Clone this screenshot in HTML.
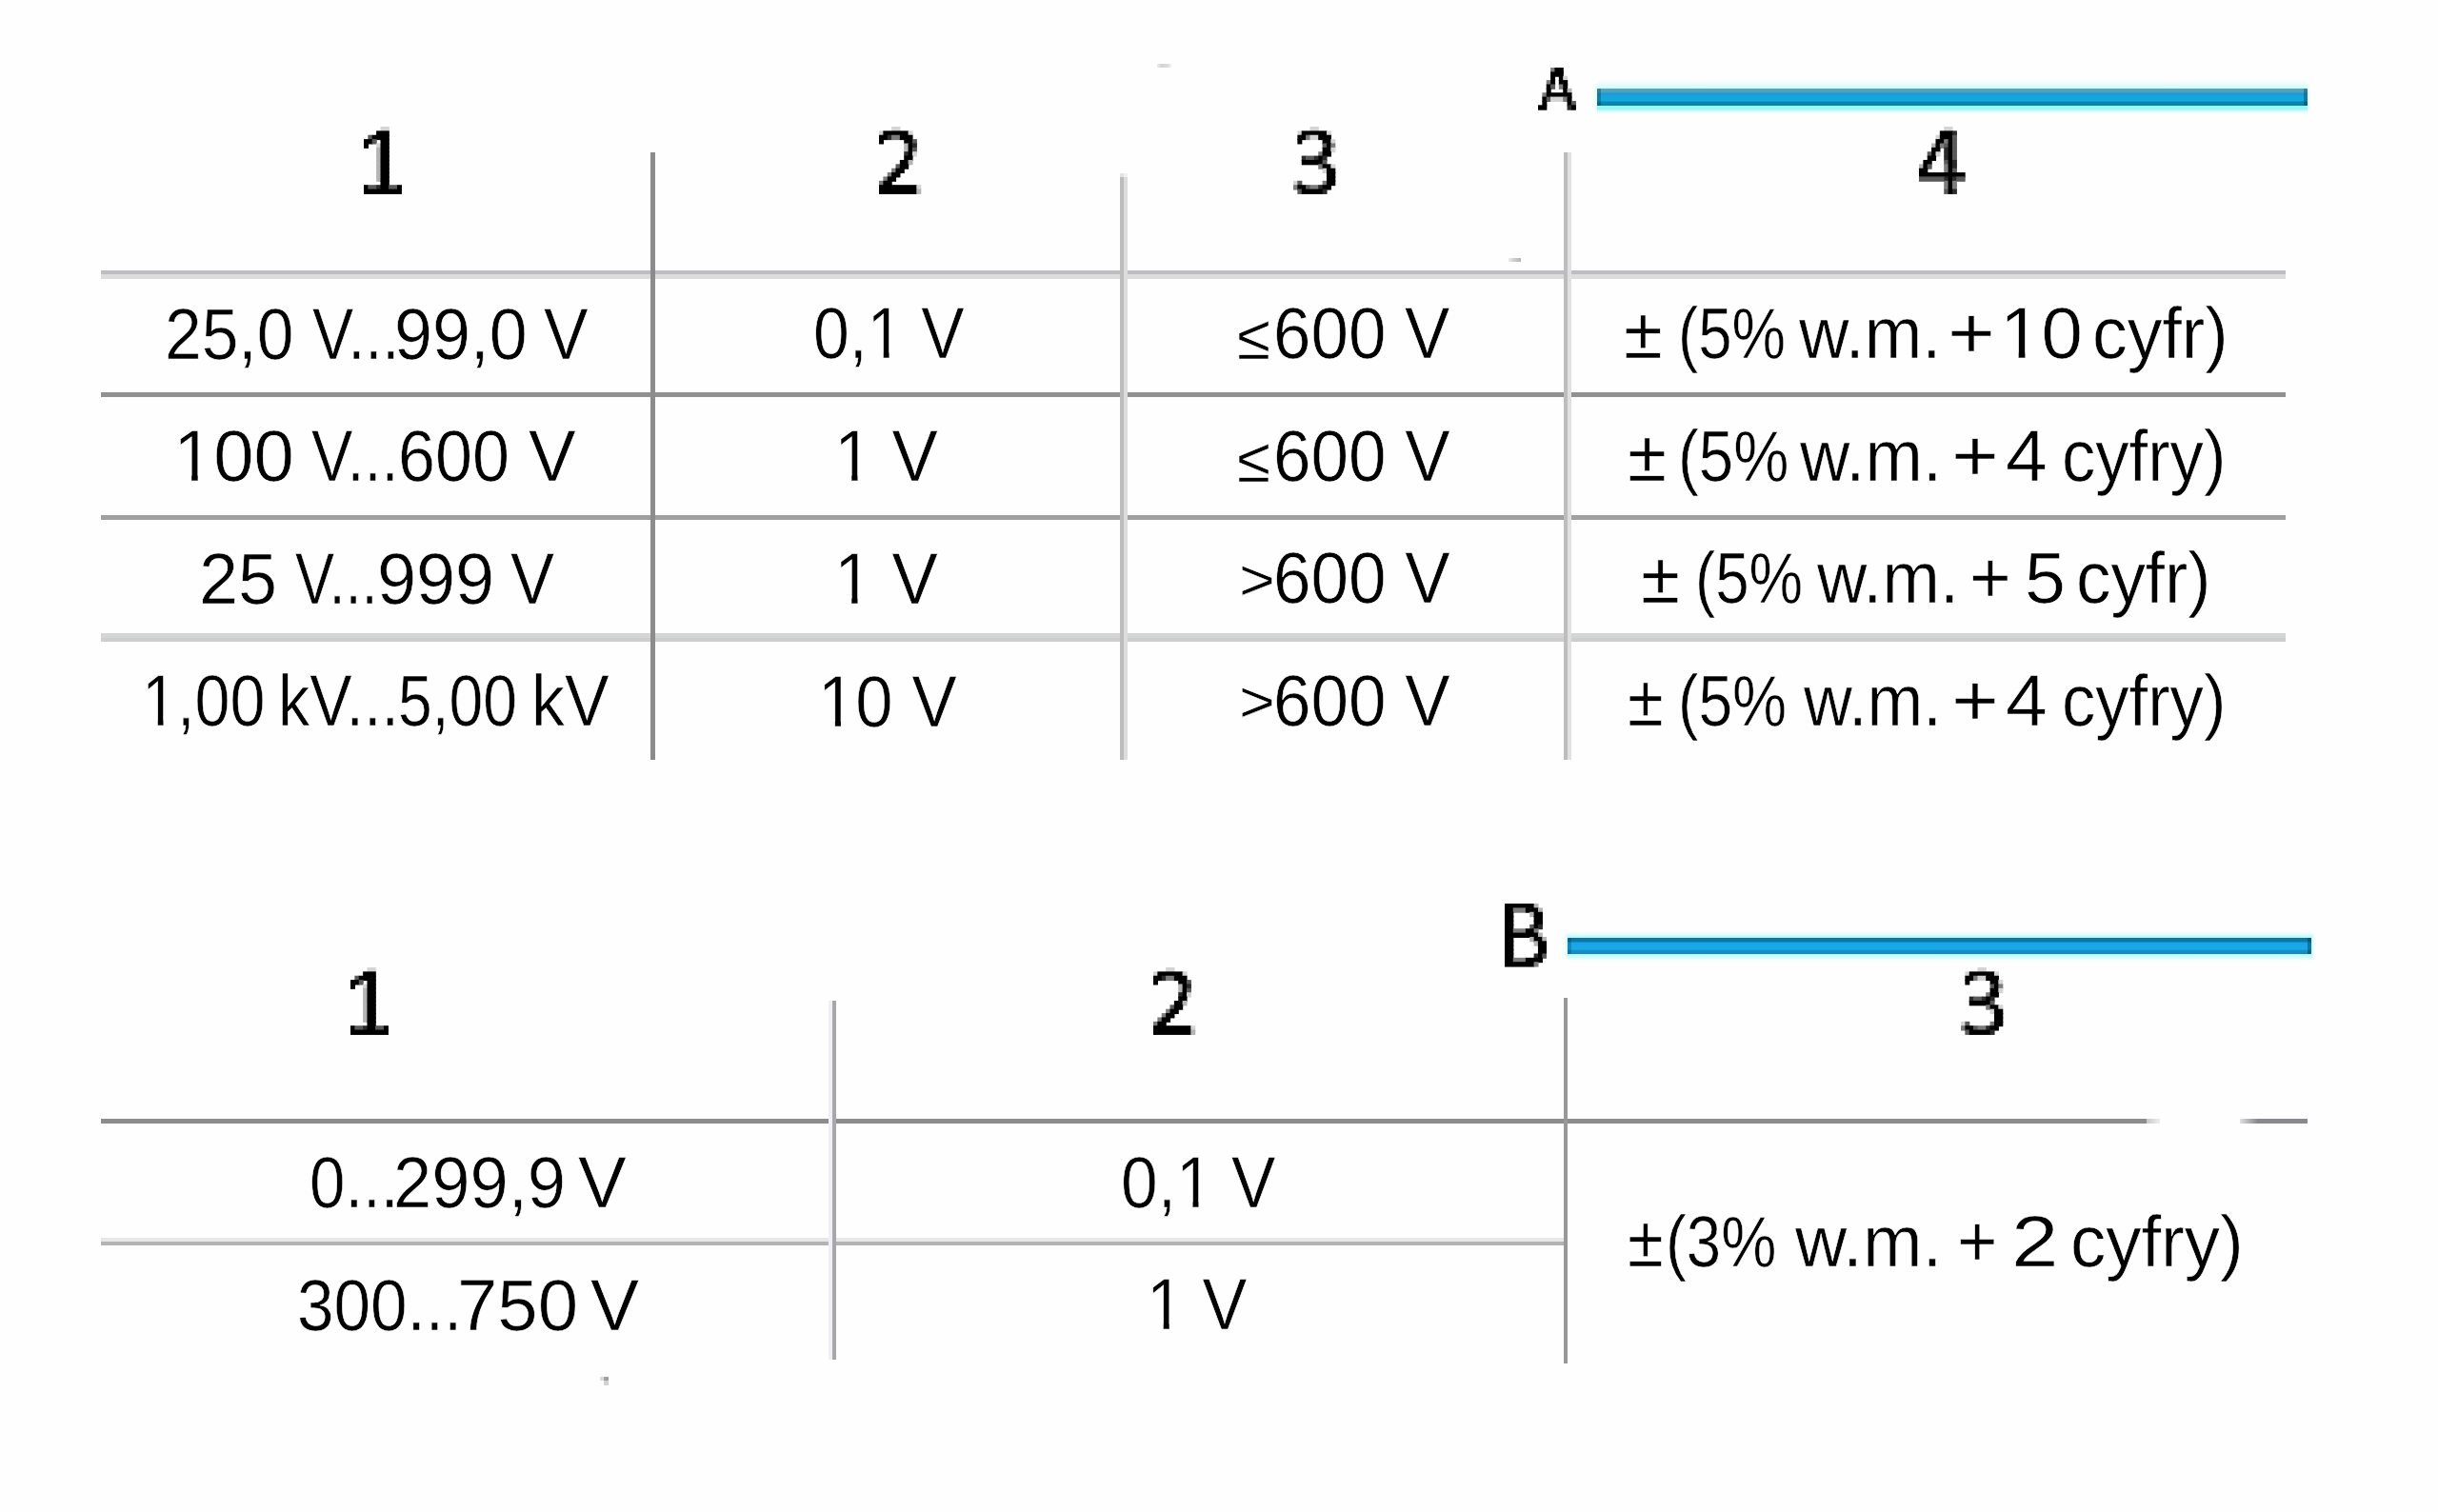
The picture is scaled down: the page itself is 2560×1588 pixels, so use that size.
<!DOCTYPE html>
<html><head><meta charset='utf-8'><style>html,body{margin:0;padding:0}body{width:2560px;height:1588px;background:#fefefe;position:relative;overflow:hidden;font-family:'Liberation Sans',sans-serif}
.t{position:absolute;line-height:1;white-space:pre;color:#000;transform-origin:0 0;-webkit-text-stroke:0.6px #fefefe}
.l{position:absolute}
.o{display:inline-block;clip-path:polygon(0 0,100% 0,100% 75.3%,60.7% 75.3%,60.7% 100%,45.4% 100%,45.4% 75.3%,0 75.3%)}</style></head><body><div class="l" style="left:106px;top:284px;width:2294px;height:9px;background:linear-gradient(#bdbdc2 0,#bdbdc2 4px,#dcdcdc 4px,#dcdcdc 100%)"></div>
<div class="l" style="left:106px;top:412px;width:2294px;height:5px;background:#909090"></div>
<div class="l" style="left:106px;top:541px;width:2294px;height:5px;background:#a0a0a0"></div>
<div class="l" style="left:106px;top:665px;width:2294px;height:9px;background:linear-gradient(#d4d6d6 0,#d4d6d6 5px,#cdcfcf 5px,#cdcfcf 100%)"></div>
<div class="l" style="left:683px;top:160px;width:5px;height:638px;background:#8c8c8c"></div>
<div class="l" style="left:1176px;top:182px;width:8px;height:4px;background:linear-gradient(90deg,#e2e2e2 0,#e2e2e2 4px,#f0f0f0 4px,#f0f0f0 100%)"></div>
<div class="l" style="left:1176px;top:186px;width:8px;height:612px;background:linear-gradient(90deg,#bcbcbc 0,#bcbcbc 4px,#dcdcdc 4px,#dcdcdc 100%)"></div>
<div class="l" style="left:1642px;top:160px;width:8px;height:638px;background:linear-gradient(90deg,#bdbdbd 0,#bdbdbd 4px,#e0e0e0 4px,#e0e0e0 100%)"></div>
<div class="l" style="left:1677px;top:83px;width:746px;height:10px;background:linear-gradient(#fefefe,#e8fcfc 60%,#d0fcfc)"></div>
<div class="l" style="left:1677px;top:93px;width:746px;height:18px;background:linear-gradient(#5aa6c2 0,#4aa0c0 4px,#1a9ad4 5px,#14a6de 9px,#12a8e0 13px,#0a88b0 14px,#08829f 100%)"></div>
<div class="l" style="left:1677px;top:111px;width:746px;height:10px;background:linear-gradient(#90fcfc,#a0f4f4 35%,#d0fcfc 55%,#f4fefe 80%,#fefefe)"></div>
<div class="l" style="left:1646px;top:978px;width:781px;height:7px;background:linear-gradient(#fefefe,#e0fcfc 50%,#b0f8fc)"></div>
<div class="l" style="left:1646px;top:985px;width:781px;height:17px;background:linear-gradient(#0c74a4 0,#0a78a8 4px,#18a4e4 5px,#18aaea 12px,#1890c4 13px,#1888b8 100%)"></div>
<div class="l" style="left:1646px;top:1002px;width:781px;height:8px;background:linear-gradient(#b8fafc,#d0fcfc 40%,#f4fefe 80%,#fefefe)"></div>
<div class="l" style="left:1672px;top:88px;width:5px;height:28px;background:linear-gradient(90deg,#fefefe,#e8fcfc)"></div>
<div class="l" style="left:1677px;top:93px;width:4px;height:18px;background:rgba(0,30,50,0.28)"></div>
<div class="l" style="left:2419px;top:93px;width:4px;height:18px;background:rgba(0,30,50,0.3)"></div>
<div class="l" style="left:2423px;top:88px;width:4px;height:28px;background:linear-gradient(90deg,#e8fcfc,#fefefe)"></div>
<div class="l" style="left:1641px;top:981px;width:5px;height:25px;background:linear-gradient(90deg,#fefefe,#d8fcfc)"></div>
<div class="l" style="left:1646px;top:985px;width:4px;height:17px;background:rgba(0,30,50,0.22)"></div>
<div class="l" style="left:2423px;top:985px;width:4px;height:17px;background:rgba(0,30,50,0.35)"></div>
<div class="l" style="left:2427px;top:981px;width:4px;height:25px;background:linear-gradient(90deg,#c8fafc,#fefefe)"></div>
<div class="l" style="left:1215px;top:67px;width:15px;height:4px;background:linear-gradient(90deg,#eeeeee,#d4d4d4 30%,#d8d8d8 70%,#f4f4f4)"></div>
<div class="l" style="left:1584px;top:271px;width:13px;height:4px;background:linear-gradient(90deg,#ececec,#d0d0d0 40%,#b4b4b4)"></div>
<div class="l" style="left:630px;top:1446px;width:4px;height:4px;background:#dcdcdc"></div>
<div class="l" style="left:634px;top:1446px;width:5px;height:4px;background:#a0a0a0"></div>
<div class="l" style="left:634px;top:1450px;width:5px;height:5px;background:#d2d2d2"></div>
<div class="l" style="left:106px;top:1175px;width:2148px;height:5px;background:#8c8c8c"></div>
<div class="l" style="left:2254px;top:1175px;width:14px;height:5px;background:linear-gradient(90deg,#c8c8c8,#eeeeee)"></div>
<div class="l" style="left:2352px;top:1175px;width:18px;height:5px;background:linear-gradient(90deg,#e0e0e0,#8a8a90)"></div>
<div class="l" style="left:2370px;top:1175px;width:53px;height:5px;background:#88888e"></div>
<div class="l" style="left:106px;top:1300px;width:1536px;height:4px;background:#e8e8e8"></div>
<div class="l" style="left:106px;top:1304px;width:1536px;height:4px;background:#b4b4b4"></div>
<div class="l" style="left:870px;top:1051px;width:4px;height:377px;background:#f0f0f4"></div>
<div class="l" style="left:874px;top:1051px;width:4px;height:377px;background:#a8a8ac"></div>
<div class="l" style="left:1642px;top:1048px;width:4px;height:384px;background:#989898"></div>
<svg class="l" style="left:1615.20px;top:71.20px" width="40.3" height="44.7"><rect x="13.11" y="0.00" width="4.97" height="5.37" fill="#7c7c7c"/><rect x="17.48" y="0.00" width="9.34" height="5.37" fill="#000"/><rect x="13.11" y="4.37" width="13.71" height="5.37" fill="#000"/><rect x="13.11" y="8.74" width="4.97" height="5.37" fill="#000"/><rect x="21.85" y="8.74" width="4.97" height="5.37" fill="#000"/><rect x="26.22" y="8.74" width="4.97" height="5.37" fill="#d4d4d4"/><rect x="8.74" y="13.11" width="4.97" height="5.37" fill="#7c7c7c"/><rect x="13.11" y="13.11" width="4.97" height="5.37" fill="#000"/><rect x="21.85" y="13.11" width="9.34" height="5.37" fill="#000"/><rect x="8.74" y="17.48" width="4.97" height="5.37" fill="#000"/><rect x="13.11" y="17.48" width="4.97" height="5.37" fill="#5a5a5a"/><rect x="21.85" y="17.48" width="4.97" height="5.37" fill="#7c7c7c"/><rect x="26.22" y="17.48" width="4.97" height="5.37" fill="#000"/><rect x="8.74" y="21.85" width="4.97" height="5.37" fill="#000"/><rect x="26.22" y="21.85" width="4.97" height="5.37" fill="#000"/><rect x="30.59" y="21.85" width="4.97" height="5.37" fill="#b4b4b4"/><rect x="4.37" y="26.22" width="4.97" height="5.37" fill="#7c7c7c"/><rect x="8.74" y="26.22" width="26.82" height="5.37" fill="#000"/><rect x="4.37" y="30.59" width="4.97" height="5.37" fill="#000"/><rect x="8.74" y="30.59" width="4.97" height="5.37" fill="#5a5a5a"/><rect x="13.11" y="30.59" width="13.71" height="5.37" fill="#d4d4d4"/><rect x="26.22" y="30.59" width="4.97" height="5.37" fill="#7c7c7c"/><rect x="30.59" y="30.59" width="4.97" height="5.37" fill="#000"/><rect x="4.37" y="34.96" width="4.97" height="5.37" fill="#000"/><rect x="30.59" y="34.96" width="4.97" height="5.37" fill="#000"/><rect x="34.96" y="34.96" width="4.97" height="5.37" fill="#5a5a5a"/><rect x="0.00" y="39.33" width="9.34" height="5.37" fill="#000"/><rect x="30.59" y="39.33" width="4.97" height="5.37" fill="#2a2a2a"/><rect x="34.96" y="39.33" width="4.97" height="5.37" fill="#000"/></svg>
<svg class="l" style="left:1579.56px;top:949.30px" width="44.7" height="66.5"><rect x="0.00" y="0.00" width="31.19" height="5.37" fill="#000"/><rect x="30.59" y="0.00" width="4.97" height="5.37" fill="#b4b4b4"/><rect x="0.00" y="4.37" width="9.34" height="5.37" fill="#000"/><rect x="8.74" y="4.37" width="13.71" height="5.37" fill="#7c7c7c"/><rect x="21.85" y="4.37" width="13.71" height="5.37" fill="#000"/><rect x="34.96" y="4.37" width="4.97" height="5.37" fill="#b4b4b4"/><rect x="0.00" y="8.74" width="9.34" height="5.37" fill="#000"/><rect x="26.22" y="8.74" width="4.97" height="5.37" fill="#b4b4b4"/><rect x="30.59" y="8.74" width="9.34" height="5.37" fill="#000"/><rect x="0.00" y="13.11" width="9.34" height="5.37" fill="#000"/><rect x="30.59" y="13.11" width="9.34" height="5.37" fill="#000"/><rect x="0.00" y="17.48" width="9.34" height="5.37" fill="#000"/><rect x="30.59" y="17.48" width="9.34" height="5.37" fill="#000"/><rect x="0.00" y="21.85" width="9.34" height="5.37" fill="#000"/><rect x="26.22" y="21.85" width="4.97" height="5.37" fill="#5a5a5a"/><rect x="30.59" y="21.85" width="4.97" height="5.37" fill="#000"/><rect x="34.96" y="21.85" width="4.97" height="5.37" fill="#2a2a2a"/><rect x="0.00" y="26.22" width="9.34" height="5.37" fill="#000"/><rect x="8.74" y="26.22" width="13.71" height="5.37" fill="#7c7c7c"/><rect x="21.85" y="26.22" width="9.34" height="5.37" fill="#000"/><rect x="30.59" y="26.22" width="4.97" height="5.37" fill="#7c7c7c"/><rect x="0.00" y="30.59" width="35.56" height="5.37" fill="#000"/><rect x="34.96" y="30.59" width="4.97" height="5.37" fill="#b4b4b4"/><rect x="0.00" y="34.96" width="9.34" height="5.37" fill="#000"/><rect x="26.22" y="34.96" width="4.97" height="5.37" fill="#b4b4b4"/><rect x="30.59" y="34.96" width="9.34" height="5.37" fill="#000"/><rect x="39.33" y="34.96" width="4.97" height="5.37" fill="#b4b4b4"/><rect x="0.00" y="39.33" width="9.34" height="5.37" fill="#000"/><rect x="30.59" y="39.33" width="4.97" height="5.37" fill="#b4b4b4"/><rect x="34.96" y="39.33" width="9.34" height="5.37" fill="#000"/><rect x="0.00" y="43.70" width="9.34" height="5.37" fill="#000"/><rect x="34.96" y="43.70" width="9.34" height="5.37" fill="#000"/><rect x="0.00" y="48.07" width="9.34" height="5.37" fill="#000"/><rect x="34.96" y="48.07" width="9.34" height="5.37" fill="#000"/><rect x="0.00" y="52.44" width="9.34" height="5.37" fill="#000"/><rect x="30.59" y="52.44" width="4.97" height="5.37" fill="#2a2a2a"/><rect x="34.96" y="52.44" width="4.97" height="5.37" fill="#000"/><rect x="39.33" y="52.44" width="4.97" height="5.37" fill="#5a5a5a"/><rect x="0.00" y="56.81" width="9.34" height="5.37" fill="#000"/><rect x="8.74" y="56.81" width="13.71" height="5.37" fill="#7c7c7c"/><rect x="21.85" y="56.81" width="18.08" height="5.37" fill="#000"/><rect x="0.00" y="61.18" width="31.19" height="5.37" fill="#000"/><rect x="30.59" y="61.18" width="4.97" height="5.37" fill="#7c7c7c"/></svg>
<svg class="l" style="left:381.60px;top:133.03px" width="40.3" height="70.9"><rect x="17.48" y="0.00" width="9.34" height="5.37" fill="#d4d4d4"/><rect x="13.11" y="4.37" width="13.71" height="5.37" fill="#000"/><rect x="4.37" y="8.74" width="4.97" height="5.37" fill="#5a5a5a"/><rect x="8.74" y="8.74" width="18.08" height="5.37" fill="#000"/><rect x="0.00" y="13.11" width="9.34" height="5.37" fill="#000"/><rect x="8.74" y="13.11" width="4.97" height="5.37" fill="#5a5a5a"/><rect x="17.48" y="13.11" width="9.34" height="5.37" fill="#000"/><rect x="0.00" y="17.48" width="4.97" height="5.37" fill="#000"/><rect x="13.11" y="17.48" width="4.97" height="5.37" fill="#d4d4d4"/><rect x="17.48" y="17.48" width="9.34" height="5.37" fill="#000"/><rect x="13.11" y="21.85" width="4.97" height="5.37" fill="#b4b4b4"/><rect x="17.48" y="21.85" width="9.34" height="5.37" fill="#000"/><rect x="13.11" y="26.22" width="4.97" height="5.37" fill="#b4b4b4"/><rect x="17.48" y="26.22" width="9.34" height="5.37" fill="#000"/><rect x="13.11" y="30.59" width="4.97" height="5.37" fill="#b4b4b4"/><rect x="17.48" y="30.59" width="9.34" height="5.37" fill="#000"/><rect x="13.11" y="34.96" width="4.97" height="5.37" fill="#b4b4b4"/><rect x="17.48" y="34.96" width="9.34" height="5.37" fill="#000"/><rect x="13.11" y="39.33" width="4.97" height="5.37" fill="#b4b4b4"/><rect x="17.48" y="39.33" width="9.34" height="5.37" fill="#000"/><rect x="13.11" y="43.70" width="4.97" height="5.37" fill="#b4b4b4"/><rect x="17.48" y="43.70" width="9.34" height="5.37" fill="#000"/><rect x="13.11" y="48.07" width="4.97" height="5.37" fill="#b4b4b4"/><rect x="17.48" y="48.07" width="9.34" height="5.37" fill="#000"/><rect x="13.11" y="52.44" width="4.97" height="5.37" fill="#b4b4b4"/><rect x="17.48" y="52.44" width="9.34" height="5.37" fill="#000"/><rect x="17.48" y="56.81" width="9.34" height="5.37" fill="#000"/><rect x="0.00" y="61.18" width="4.97" height="5.37" fill="#000"/><rect x="4.37" y="61.18" width="9.34" height="5.37" fill="#5a5a5a"/><rect x="13.11" y="61.18" width="4.97" height="5.37" fill="#2a2a2a"/><rect x="17.48" y="61.18" width="9.34" height="5.37" fill="#000"/><rect x="26.22" y="61.18" width="9.34" height="5.37" fill="#5a5a5a"/><rect x="34.96" y="61.18" width="4.97" height="5.37" fill="#000"/><rect x="0.00" y="65.55" width="39.93" height="5.37" fill="#000"/></svg>
<svg class="l" style="left:923.20px;top:133.03px" width="44.7" height="70.9"><rect x="13.11" y="0.00" width="9.34" height="5.37" fill="#d4d4d4"/><rect x="0.00" y="4.37" width="4.97" height="5.37" fill="#d4d4d4"/><rect x="4.37" y="4.37" width="26.82" height="5.37" fill="#000"/><rect x="30.59" y="4.37" width="4.97" height="5.37" fill="#d4d4d4"/><rect x="0.00" y="8.74" width="9.34" height="5.37" fill="#000"/><rect x="8.74" y="8.74" width="4.97" height="5.37" fill="#2a2a2a"/><rect x="13.11" y="8.74" width="9.34" height="5.37" fill="#7c7c7c"/><rect x="21.85" y="8.74" width="13.71" height="5.37" fill="#000"/><rect x="0.00" y="13.11" width="4.97" height="5.37" fill="#000"/><rect x="26.22" y="13.11" width="9.34" height="5.37" fill="#000"/><rect x="34.96" y="13.11" width="4.97" height="5.37" fill="#5a5a5a"/><rect x="26.22" y="17.48" width="4.97" height="5.37" fill="#b4b4b4"/><rect x="30.59" y="17.48" width="4.97" height="5.37" fill="#000"/><rect x="34.96" y="17.48" width="4.97" height="5.37" fill="#2a2a2a"/><rect x="26.22" y="21.85" width="4.97" height="5.37" fill="#b4b4b4"/><rect x="30.59" y="21.85" width="4.97" height="5.37" fill="#000"/><rect x="34.96" y="21.85" width="4.97" height="5.37" fill="#5a5a5a"/><rect x="26.22" y="26.22" width="4.97" height="5.37" fill="#2a2a2a"/><rect x="30.59" y="26.22" width="4.97" height="5.37" fill="#000"/><rect x="34.96" y="26.22" width="4.97" height="5.37" fill="#d4d4d4"/><rect x="26.22" y="30.59" width="9.34" height="5.37" fill="#000"/><rect x="21.85" y="34.96" width="9.34" height="5.37" fill="#000"/><rect x="30.59" y="34.96" width="4.97" height="5.37" fill="#b4b4b4"/><rect x="17.48" y="39.33" width="4.97" height="5.37" fill="#5a5a5a"/><rect x="21.85" y="39.33" width="9.34" height="5.37" fill="#000"/><rect x="13.11" y="43.70" width="4.97" height="5.37" fill="#7c7c7c"/><rect x="17.48" y="43.70" width="9.34" height="5.37" fill="#000"/><rect x="8.74" y="48.07" width="4.97" height="5.37" fill="#7c7c7c"/><rect x="13.11" y="48.07" width="9.34" height="5.37" fill="#000"/><rect x="4.37" y="52.44" width="4.97" height="5.37" fill="#7c7c7c"/><rect x="8.74" y="52.44" width="9.34" height="5.37" fill="#000"/><rect x="0.00" y="56.81" width="4.97" height="5.37" fill="#7c7c7c"/><rect x="4.37" y="56.81" width="9.34" height="5.37" fill="#000"/><rect x="0.00" y="61.18" width="39.93" height="5.37" fill="#000"/><rect x="39.33" y="61.18" width="4.97" height="5.37" fill="#d4d4d4"/><rect x="0.00" y="65.55" width="39.93" height="5.37" fill="#000"/><rect x="39.33" y="65.55" width="4.97" height="5.37" fill="#b4b4b4"/></svg>
<svg class="l" style="left:1358.20px;top:133.03px" width="44.7" height="70.9"><rect x="17.48" y="0.00" width="9.34" height="5.37" fill="#d4d4d4"/><rect x="4.37" y="4.37" width="4.97" height="5.37" fill="#d4d4d4"/><rect x="8.74" y="4.37" width="26.82" height="5.37" fill="#000"/><rect x="34.96" y="4.37" width="4.97" height="5.37" fill="#d4d4d4"/><rect x="4.37" y="8.74" width="9.34" height="5.37" fill="#000"/><rect x="13.11" y="8.74" width="4.97" height="5.37" fill="#7c7c7c"/><rect x="17.48" y="8.74" width="9.34" height="5.37" fill="#d4d4d4"/><rect x="26.22" y="8.74" width="13.71" height="5.37" fill="#000"/><rect x="4.37" y="13.11" width="4.97" height="5.37" fill="#000"/><rect x="30.59" y="13.11" width="9.34" height="5.37" fill="#000"/><rect x="39.33" y="13.11" width="4.97" height="5.37" fill="#d4d4d4"/><rect x="30.59" y="17.48" width="4.97" height="5.37" fill="#5a5a5a"/><rect x="34.96" y="17.48" width="4.97" height="5.37" fill="#000"/><rect x="39.33" y="17.48" width="4.97" height="5.37" fill="#7c7c7c"/><rect x="30.59" y="21.85" width="9.34" height="5.37" fill="#000"/><rect x="39.33" y="21.85" width="4.97" height="5.37" fill="#d4d4d4"/><rect x="26.22" y="26.22" width="4.97" height="5.37" fill="#7c7c7c"/><rect x="30.59" y="26.22" width="9.34" height="5.37" fill="#000"/><rect x="8.74" y="30.59" width="4.97" height="5.37" fill="#2a2a2a"/><rect x="13.11" y="30.59" width="9.34" height="5.37" fill="#5a5a5a"/><rect x="21.85" y="30.59" width="4.97" height="5.37" fill="#2a2a2a"/><rect x="26.22" y="30.59" width="4.97" height="5.37" fill="#000"/><rect x="30.59" y="30.59" width="4.97" height="5.37" fill="#2a2a2a"/><rect x="8.74" y="34.96" width="22.45" height="5.37" fill="#000"/><rect x="30.59" y="34.96" width="4.97" height="5.37" fill="#5a5a5a"/><rect x="26.22" y="39.33" width="4.97" height="5.37" fill="#7c7c7c"/><rect x="30.59" y="39.33" width="9.34" height="5.37" fill="#000"/><rect x="39.33" y="39.33" width="4.97" height="5.37" fill="#d4d4d4"/><rect x="30.59" y="43.70" width="4.97" height="5.37" fill="#d4d4d4"/><rect x="34.96" y="43.70" width="9.34" height="5.37" fill="#000"/><rect x="34.96" y="48.07" width="9.34" height="5.37" fill="#000"/><rect x="34.96" y="52.44" width="9.34" height="5.37" fill="#000"/><rect x="0.00" y="56.81" width="4.97" height="5.37" fill="#d4d4d4"/><rect x="4.37" y="56.81" width="4.97" height="5.37" fill="#5a5a5a"/><rect x="30.59" y="56.81" width="4.97" height="5.37" fill="#7c7c7c"/><rect x="34.96" y="56.81" width="9.34" height="5.37" fill="#000"/><rect x="0.00" y="61.18" width="4.97" height="5.37" fill="#7c7c7c"/><rect x="4.37" y="61.18" width="9.34" height="5.37" fill="#000"/><rect x="13.11" y="61.18" width="4.97" height="5.37" fill="#5a5a5a"/><rect x="17.48" y="61.18" width="9.34" height="5.37" fill="#7c7c7c"/><rect x="26.22" y="61.18" width="4.97" height="5.37" fill="#2a2a2a"/><rect x="30.59" y="61.18" width="9.34" height="5.37" fill="#000"/><rect x="4.37" y="65.55" width="4.97" height="5.37" fill="#5a5a5a"/><rect x="8.74" y="65.55" width="22.45" height="5.37" fill="#000"/><rect x="30.59" y="65.55" width="4.97" height="5.37" fill="#2a2a2a"/></svg>
<svg class="l" style="left:2014.50px;top:133.03px" width="49.1" height="70.9"><rect x="26.22" y="0.00" width="9.34" height="5.37" fill="#d4d4d4"/><rect x="21.85" y="4.37" width="13.71" height="5.37" fill="#000"/><rect x="34.96" y="4.37" width="4.97" height="5.37" fill="#2a2a2a"/><rect x="17.48" y="8.74" width="4.97" height="5.37" fill="#d4d4d4"/><rect x="21.85" y="8.74" width="13.71" height="5.37" fill="#000"/><rect x="34.96" y="8.74" width="4.97" height="5.37" fill="#5a5a5a"/><rect x="17.48" y="13.11" width="9.34" height="5.37" fill="#000"/><rect x="26.22" y="13.11" width="4.97" height="5.37" fill="#7c7c7c"/><rect x="30.59" y="13.11" width="4.97" height="5.37" fill="#000"/><rect x="34.96" y="13.11" width="4.97" height="5.37" fill="#5a5a5a"/><rect x="13.11" y="17.48" width="4.97" height="5.37" fill="#b4b4b4"/><rect x="17.48" y="17.48" width="4.97" height="5.37" fill="#000"/><rect x="21.85" y="17.48" width="4.97" height="5.37" fill="#7c7c7c"/><rect x="26.22" y="17.48" width="4.97" height="5.37" fill="#5a5a5a"/><rect x="30.59" y="17.48" width="4.97" height="5.37" fill="#000"/><rect x="34.96" y="17.48" width="4.97" height="5.37" fill="#5a5a5a"/><rect x="13.11" y="21.85" width="9.34" height="5.37" fill="#000"/><rect x="26.22" y="21.85" width="4.97" height="5.37" fill="#2a2a2a"/><rect x="30.59" y="21.85" width="4.97" height="5.37" fill="#000"/><rect x="34.96" y="21.85" width="4.97" height="5.37" fill="#5a5a5a"/><rect x="8.74" y="26.22" width="4.97" height="5.37" fill="#5a5a5a"/><rect x="13.11" y="26.22" width="4.97" height="5.37" fill="#000"/><rect x="17.48" y="26.22" width="4.97" height="5.37" fill="#d4d4d4"/><rect x="26.22" y="26.22" width="4.97" height="5.37" fill="#2a2a2a"/><rect x="30.59" y="26.22" width="4.97" height="5.37" fill="#000"/><rect x="34.96" y="26.22" width="4.97" height="5.37" fill="#5a5a5a"/><rect x="8.74" y="30.59" width="9.34" height="5.37" fill="#000"/><rect x="26.22" y="30.59" width="4.97" height="5.37" fill="#2a2a2a"/><rect x="30.59" y="30.59" width="4.97" height="5.37" fill="#000"/><rect x="34.96" y="30.59" width="4.97" height="5.37" fill="#5a5a5a"/><rect x="4.37" y="34.96" width="9.34" height="5.37" fill="#000"/><rect x="26.22" y="34.96" width="4.97" height="5.37" fill="#5a5a5a"/><rect x="30.59" y="34.96" width="4.97" height="5.37" fill="#000"/><rect x="34.96" y="34.96" width="4.97" height="5.37" fill="#2a2a2a"/><rect x="0.00" y="39.33" width="4.97" height="5.37" fill="#b4b4b4"/><rect x="4.37" y="39.33" width="4.97" height="5.37" fill="#000"/><rect x="8.74" y="39.33" width="4.97" height="5.37" fill="#5a5a5a"/><rect x="26.22" y="39.33" width="4.97" height="5.37" fill="#7c7c7c"/><rect x="30.59" y="39.33" width="4.97" height="5.37" fill="#000"/><rect x="34.96" y="39.33" width="4.97" height="5.37" fill="#2a2a2a"/><rect x="0.00" y="43.70" width="9.34" height="5.37" fill="#000"/><rect x="26.22" y="43.70" width="4.97" height="5.37" fill="#7c7c7c"/><rect x="30.59" y="43.70" width="4.97" height="5.37" fill="#000"/><rect x="34.96" y="43.70" width="4.97" height="5.37" fill="#5a5a5a"/><rect x="0.00" y="48.07" width="48.67" height="5.37" fill="#000"/><rect x="0.00" y="52.44" width="26.82" height="5.37" fill="#5a5a5a"/><rect x="26.22" y="52.44" width="4.97" height="5.37" fill="#2a2a2a"/><rect x="30.59" y="52.44" width="4.97" height="5.37" fill="#000"/><rect x="34.96" y="52.44" width="4.97" height="5.37" fill="#2a2a2a"/><rect x="39.33" y="52.44" width="9.34" height="5.37" fill="#5a5a5a"/><rect x="26.22" y="56.81" width="4.97" height="5.37" fill="#7c7c7c"/><rect x="30.59" y="56.81" width="4.97" height="5.37" fill="#000"/><rect x="34.96" y="56.81" width="4.97" height="5.37" fill="#7c7c7c"/><rect x="26.22" y="61.18" width="4.97" height="5.37" fill="#7c7c7c"/><rect x="30.59" y="61.18" width="4.97" height="5.37" fill="#000"/><rect x="34.96" y="61.18" width="4.97" height="5.37" fill="#7c7c7c"/><rect x="26.22" y="65.55" width="4.97" height="5.37" fill="#5a5a5a"/><rect x="30.59" y="65.55" width="4.97" height="5.37" fill="#000"/><rect x="34.96" y="65.55" width="4.97" height="5.37" fill="#2a2a2a"/></svg>
<svg class="l" style="left:368.00px;top:1015.63px" width="40.3" height="70.9"><rect x="17.48" y="0.00" width="9.34" height="5.37" fill="#d4d4d4"/><rect x="13.11" y="4.37" width="13.71" height="5.37" fill="#000"/><rect x="4.37" y="8.74" width="4.97" height="5.37" fill="#5a5a5a"/><rect x="8.74" y="8.74" width="18.08" height="5.37" fill="#000"/><rect x="0.00" y="13.11" width="9.34" height="5.37" fill="#000"/><rect x="8.74" y="13.11" width="4.97" height="5.37" fill="#5a5a5a"/><rect x="17.48" y="13.11" width="9.34" height="5.37" fill="#000"/><rect x="0.00" y="17.48" width="4.97" height="5.37" fill="#000"/><rect x="13.11" y="17.48" width="4.97" height="5.37" fill="#d4d4d4"/><rect x="17.48" y="17.48" width="9.34" height="5.37" fill="#000"/><rect x="13.11" y="21.85" width="4.97" height="5.37" fill="#b4b4b4"/><rect x="17.48" y="21.85" width="9.34" height="5.37" fill="#000"/><rect x="13.11" y="26.22" width="4.97" height="5.37" fill="#b4b4b4"/><rect x="17.48" y="26.22" width="9.34" height="5.37" fill="#000"/><rect x="13.11" y="30.59" width="4.97" height="5.37" fill="#b4b4b4"/><rect x="17.48" y="30.59" width="9.34" height="5.37" fill="#000"/><rect x="13.11" y="34.96" width="4.97" height="5.37" fill="#b4b4b4"/><rect x="17.48" y="34.96" width="9.34" height="5.37" fill="#000"/><rect x="13.11" y="39.33" width="4.97" height="5.37" fill="#b4b4b4"/><rect x="17.48" y="39.33" width="9.34" height="5.37" fill="#000"/><rect x="13.11" y="43.70" width="4.97" height="5.37" fill="#b4b4b4"/><rect x="17.48" y="43.70" width="9.34" height="5.37" fill="#000"/><rect x="13.11" y="48.07" width="4.97" height="5.37" fill="#b4b4b4"/><rect x="17.48" y="48.07" width="9.34" height="5.37" fill="#000"/><rect x="13.11" y="52.44" width="4.97" height="5.37" fill="#b4b4b4"/><rect x="17.48" y="52.44" width="9.34" height="5.37" fill="#000"/><rect x="17.48" y="56.81" width="9.34" height="5.37" fill="#000"/><rect x="0.00" y="61.18" width="4.97" height="5.37" fill="#000"/><rect x="4.37" y="61.18" width="9.34" height="5.37" fill="#5a5a5a"/><rect x="13.11" y="61.18" width="4.97" height="5.37" fill="#2a2a2a"/><rect x="17.48" y="61.18" width="9.34" height="5.37" fill="#000"/><rect x="26.22" y="61.18" width="9.34" height="5.37" fill="#5a5a5a"/><rect x="34.96" y="61.18" width="4.97" height="5.37" fill="#000"/><rect x="0.00" y="65.55" width="39.93" height="5.37" fill="#000"/></svg>
<svg class="l" style="left:1211.30px;top:1015.63px" width="44.7" height="70.9"><rect x="13.11" y="0.00" width="9.34" height="5.37" fill="#d4d4d4"/><rect x="0.00" y="4.37" width="4.97" height="5.37" fill="#d4d4d4"/><rect x="4.37" y="4.37" width="26.82" height="5.37" fill="#000"/><rect x="30.59" y="4.37" width="4.97" height="5.37" fill="#d4d4d4"/><rect x="0.00" y="8.74" width="9.34" height="5.37" fill="#000"/><rect x="8.74" y="8.74" width="4.97" height="5.37" fill="#2a2a2a"/><rect x="13.11" y="8.74" width="9.34" height="5.37" fill="#7c7c7c"/><rect x="21.85" y="8.74" width="13.71" height="5.37" fill="#000"/><rect x="0.00" y="13.11" width="4.97" height="5.37" fill="#000"/><rect x="26.22" y="13.11" width="9.34" height="5.37" fill="#000"/><rect x="34.96" y="13.11" width="4.97" height="5.37" fill="#5a5a5a"/><rect x="26.22" y="17.48" width="4.97" height="5.37" fill="#b4b4b4"/><rect x="30.59" y="17.48" width="4.97" height="5.37" fill="#000"/><rect x="34.96" y="17.48" width="4.97" height="5.37" fill="#2a2a2a"/><rect x="26.22" y="21.85" width="4.97" height="5.37" fill="#b4b4b4"/><rect x="30.59" y="21.85" width="4.97" height="5.37" fill="#000"/><rect x="34.96" y="21.85" width="4.97" height="5.37" fill="#5a5a5a"/><rect x="26.22" y="26.22" width="4.97" height="5.37" fill="#2a2a2a"/><rect x="30.59" y="26.22" width="4.97" height="5.37" fill="#000"/><rect x="34.96" y="26.22" width="4.97" height="5.37" fill="#d4d4d4"/><rect x="26.22" y="30.59" width="9.34" height="5.37" fill="#000"/><rect x="21.85" y="34.96" width="9.34" height="5.37" fill="#000"/><rect x="30.59" y="34.96" width="4.97" height="5.37" fill="#b4b4b4"/><rect x="17.48" y="39.33" width="4.97" height="5.37" fill="#5a5a5a"/><rect x="21.85" y="39.33" width="9.34" height="5.37" fill="#000"/><rect x="13.11" y="43.70" width="4.97" height="5.37" fill="#7c7c7c"/><rect x="17.48" y="43.70" width="9.34" height="5.37" fill="#000"/><rect x="8.74" y="48.07" width="4.97" height="5.37" fill="#7c7c7c"/><rect x="13.11" y="48.07" width="9.34" height="5.37" fill="#000"/><rect x="4.37" y="52.44" width="4.97" height="5.37" fill="#7c7c7c"/><rect x="8.74" y="52.44" width="9.34" height="5.37" fill="#000"/><rect x="0.00" y="56.81" width="4.97" height="5.37" fill="#7c7c7c"/><rect x="4.37" y="56.81" width="9.34" height="5.37" fill="#000"/><rect x="0.00" y="61.18" width="39.93" height="5.37" fill="#000"/><rect x="39.33" y="61.18" width="4.97" height="5.37" fill="#d4d4d4"/><rect x="0.00" y="65.55" width="39.93" height="5.37" fill="#000"/><rect x="39.33" y="65.55" width="4.97" height="5.37" fill="#b4b4b4"/></svg>
<svg class="l" style="left:2058.90px;top:1015.63px" width="44.7" height="70.9"><rect x="17.48" y="0.00" width="9.34" height="5.37" fill="#d4d4d4"/><rect x="4.37" y="4.37" width="4.97" height="5.37" fill="#d4d4d4"/><rect x="8.74" y="4.37" width="26.82" height="5.37" fill="#000"/><rect x="34.96" y="4.37" width="4.97" height="5.37" fill="#d4d4d4"/><rect x="4.37" y="8.74" width="9.34" height="5.37" fill="#000"/><rect x="13.11" y="8.74" width="4.97" height="5.37" fill="#7c7c7c"/><rect x="17.48" y="8.74" width="9.34" height="5.37" fill="#d4d4d4"/><rect x="26.22" y="8.74" width="13.71" height="5.37" fill="#000"/><rect x="4.37" y="13.11" width="4.97" height="5.37" fill="#000"/><rect x="30.59" y="13.11" width="9.34" height="5.37" fill="#000"/><rect x="39.33" y="13.11" width="4.97" height="5.37" fill="#d4d4d4"/><rect x="30.59" y="17.48" width="4.97" height="5.37" fill="#5a5a5a"/><rect x="34.96" y="17.48" width="4.97" height="5.37" fill="#000"/><rect x="39.33" y="17.48" width="4.97" height="5.37" fill="#7c7c7c"/><rect x="30.59" y="21.85" width="9.34" height="5.37" fill="#000"/><rect x="39.33" y="21.85" width="4.97" height="5.37" fill="#d4d4d4"/><rect x="26.22" y="26.22" width="4.97" height="5.37" fill="#7c7c7c"/><rect x="30.59" y="26.22" width="9.34" height="5.37" fill="#000"/><rect x="8.74" y="30.59" width="4.97" height="5.37" fill="#2a2a2a"/><rect x="13.11" y="30.59" width="9.34" height="5.37" fill="#5a5a5a"/><rect x="21.85" y="30.59" width="4.97" height="5.37" fill="#2a2a2a"/><rect x="26.22" y="30.59" width="4.97" height="5.37" fill="#000"/><rect x="30.59" y="30.59" width="4.97" height="5.37" fill="#2a2a2a"/><rect x="8.74" y="34.96" width="22.45" height="5.37" fill="#000"/><rect x="30.59" y="34.96" width="4.97" height="5.37" fill="#5a5a5a"/><rect x="26.22" y="39.33" width="4.97" height="5.37" fill="#7c7c7c"/><rect x="30.59" y="39.33" width="9.34" height="5.37" fill="#000"/><rect x="39.33" y="39.33" width="4.97" height="5.37" fill="#d4d4d4"/><rect x="30.59" y="43.70" width="4.97" height="5.37" fill="#d4d4d4"/><rect x="34.96" y="43.70" width="9.34" height="5.37" fill="#000"/><rect x="34.96" y="48.07" width="9.34" height="5.37" fill="#000"/><rect x="34.96" y="52.44" width="9.34" height="5.37" fill="#000"/><rect x="0.00" y="56.81" width="4.97" height="5.37" fill="#d4d4d4"/><rect x="4.37" y="56.81" width="4.97" height="5.37" fill="#5a5a5a"/><rect x="30.59" y="56.81" width="4.97" height="5.37" fill="#7c7c7c"/><rect x="34.96" y="56.81" width="9.34" height="5.37" fill="#000"/><rect x="0.00" y="61.18" width="4.97" height="5.37" fill="#7c7c7c"/><rect x="4.37" y="61.18" width="9.34" height="5.37" fill="#000"/><rect x="13.11" y="61.18" width="4.97" height="5.37" fill="#5a5a5a"/><rect x="17.48" y="61.18" width="9.34" height="5.37" fill="#7c7c7c"/><rect x="26.22" y="61.18" width="4.97" height="5.37" fill="#2a2a2a"/><rect x="30.59" y="61.18" width="9.34" height="5.37" fill="#000"/><rect x="4.37" y="65.55" width="4.97" height="5.37" fill="#5a5a5a"/><rect x="8.74" y="65.55" width="22.45" height="5.37" fill="#000"/><rect x="30.59" y="65.55" width="4.97" height="5.37" fill="#2a2a2a"/></svg>
<div class="t" style="left:853.62px;top:312.48px;font-size:76.0px;transform:scaleX(0.8931)">0,<span class="o">1</span> V</div>
<div class="t" style="left:876.40px;top:440.98px;font-size:76.0px;transform:scaleX(0.9531)"><span class="o">1</span> V</div>
<div class="t" style="left:876.40px;top:569.78px;font-size:76.0px;transform:scaleX(0.9531)"><span class="o">1</span> V</div>
<div class="t" style="left:858.57px;top:698.58px;font-size:76.0px;transform:scaleX(0.9311)"><span class="o">1</span>0 V</div>
<div class="t" style="left:1177.35px;top:1203.58px;font-size:76.0px;transform:scaleX(0.9144)">0,<span class="o">1</span> V</div>
<div class="t" style="left:1204.22px;top:1332.38px;font-size:76.0px;transform:scaleX(0.9237)"><span class="o">1</span> V</div>
<div class="t" style="left:1705.16px;top:312.28px;font-size:76.0px;transform:scaleX(0.9735)">±</div>
<div class="t" style="left:1761.78px;top:312.28px;font-size:76.0px;transform:scaleX(0.8361)">(5%</div>
<div class="t" style="left:1888.75px;top:312.28px;font-size:76.0px;transform:scaleX(0.9575)">w.m.</div>
<div class="t" style="left:2044.58px;top:312.28px;font-size:76.0px;transform:scaleX(1.1250)">+</div>
<div class="t" style="left:2099.95px;top:312.28px;font-size:76.0px;transform:scaleX(1.0268)"><span class="o">1</span>0</div>
<div class="t" style="left:2196.96px;top:312.28px;font-size:76.0px;transform:scaleX(0.9663)">cyfr)</div>
<div class="t" style="left:1708.72px;top:440.78px;font-size:76.0px;transform:scaleX(0.9844)">±</div>
<div class="t" style="left:1762.21px;top:440.78px;font-size:76.0px;transform:scaleX(0.8606)">(5%</div>
<div class="t" style="left:1889.94px;top:440.78px;font-size:76.0px;transform:scaleX(0.9541)">w.m.</div>
<div class="t" style="left:2049.00px;top:440.78px;font-size:76.0px;transform:scaleX(1.1250)">+</div>
<div class="t" style="left:2105.71px;top:440.78px;font-size:76.0px;transform:scaleX(1.0324)">4</div>
<div class="t" style="left:2164.91px;top:440.78px;font-size:76.0px;transform:scaleX(0.9281)">cyfry)</div>
<div class="t" style="left:1722.72px;top:569.48px;font-size:76.0px;transform:scaleX(0.9844)">±</div>
<div class="t" style="left:1780.35px;top:569.48px;font-size:76.0px;transform:scaleX(0.8368)">(5%</div>
<div class="t" style="left:1907.94px;top:569.48px;font-size:76.0px;transform:scaleX(0.9541)">w.m.</div>
<div class="t" style="left:2067.62px;top:569.48px;font-size:76.0px;transform:scaleX(0.9851)">+</div>
<div class="t" style="left:2125.59px;top:569.48px;font-size:76.0px;transform:scaleX(1.0133)">5</div>
<div class="t" style="left:2179.81px;top:569.48px;font-size:76.0px;transform:scaleX(0.9577)">cyfr)</div>
<div class="t" style="left:1709.00px;top:698.38px;font-size:76.0px;transform:scaleX(0.9000)">±</div>
<div class="t" style="left:1762.31px;top:698.38px;font-size:76.0px;transform:scaleX(0.8447)">(5%</div>
<div class="t" style="left:1893.97px;top:698.38px;font-size:76.0px;transform:scaleX(0.9271)">w.m.</div>
<div class="t" style="left:2049.00px;top:698.38px;font-size:76.0px;transform:scaleX(1.1250)">+</div>
<div class="t" style="left:2105.71px;top:698.38px;font-size:76.0px;transform:scaleX(1.0324)">4</div>
<div class="t" style="left:2164.91px;top:698.38px;font-size:76.0px;transform:scaleX(0.9281)">cyfry)</div>
<div class="t" style="left:1709.00px;top:1265.58px;font-size:76.0px;transform:scaleX(0.9000)">±</div>
<div class="t" style="left:1749.21px;top:1265.58px;font-size:76.0px;transform:scaleX(0.8606)">(3%</div>
<div class="t" style="left:1884.90px;top:1265.58px;font-size:76.0px;transform:scaleX(0.9880)">w.m.</div>
<div class="t" style="left:2054.75px;top:1265.58px;font-size:76.0px;transform:scaleX(0.9570)">+</div>
<div class="t" style="left:2111.80px;top:1265.58px;font-size:76.0px;transform:scaleX(1.1708)">2</div>
<div class="t" style="left:2173.73px;top:1265.58px;font-size:76.0px;transform:scaleX(0.9788)">cyfry)</div>
<div class="t" style="left:1298.66px;top:320.93px;font-size:66.0px;transform:scaleX(0.9678)">≤</div>
<div class="t" style="left:1336.85px;top:312.48px;font-size:76.0px;transform:scaleX(0.9331)">600 V</div>
<div class="t" style="left:1298.66px;top:449.63px;font-size:66.0px;transform:scaleX(0.9678)">≤</div>
<div class="t" style="left:1336.85px;top:440.98px;font-size:76.0px;transform:scaleX(0.9347)">600 V</div>
<div class="t" style="left:1300.69px;top:578.52px;font-size:60.8px;transform:scaleX(1.0665)">&gt;</div>
<div class="t" style="left:1336.85px;top:569.48px;font-size:76.0px;transform:scaleX(0.9347)">600 V</div>
<div class="t" style="left:1300.69px;top:707.32px;font-size:60.8px;transform:scaleX(1.0665)">&gt;</div>
<div class="t" style="left:1336.85px;top:698.38px;font-size:76.0px;transform:scaleX(0.9347)">600 V</div>
<div class="t" style="left:172.74px;top:312.58px;font-size:76.0px;transform:scaleX(0.9150)">25,0</div>
<div class="t" style="left:327.63px;top:312.58px;font-size:76.0px;transform:scaleX(0.8525)">V...</div>
<div class="t" style="left:413.61px;top:312.58px;font-size:76.0px;transform:scaleX(0.9443)">99,0</div>
<div class="t" style="left:570.78px;top:312.58px;font-size:76.0px;transform:scaleX(0.9185)">V</div>
<div class="t" style="left:182.40px;top:440.78px;font-size:76.0px;transform:scaleX(1.0004)"><span class="o">1</span>00</div>
<div class="t" style="left:327.47px;top:440.78px;font-size:76.0px;transform:scaleX(0.8555)">V...</div>
<div class="t" style="left:417.69px;top:440.78px;font-size:76.0px;transform:scaleX(0.9219)">600</div>
<div class="t" style="left:554.88px;top:440.78px;font-size:76.0px;transform:scaleX(0.9799)">V</div>
<div class="t" style="left:208.91px;top:569.58px;font-size:76.0px;transform:scaleX(0.9705)">25</div>
<div class="t" style="left:309.93px;top:569.58px;font-size:76.0px;transform:scaleX(0.8100)">V...</div>
<div class="t" style="left:395.64px;top:569.58px;font-size:76.0px;transform:scaleX(0.9714)">999</div>
<div class="t" style="left:535.99px;top:569.58px;font-size:76.0px;transform:scaleX(0.9084)">V</div>
<div class="t" style="left:148.60px;top:698.28px;font-size:76.0px;transform:scaleX(0.8744)"><span class="o">1</span>,00</div>
<div class="t" style="left:292.15px;top:698.28px;font-size:76.0px;transform:scaleX(0.8751)">kV...</div>
<div class="t" style="left:418.22px;top:698.28px;font-size:76.0px;transform:scaleX(0.8447)">5,00</div>
<div class="t" style="left:558.10px;top:698.28px;font-size:76.0px;transform:scaleX(0.9195)">kV</div>
<div class="t" style="left:325.45px;top:1203.88px;font-size:76.0px;transform:scaleX(0.8852)">0...</div>
<div class="t" style="left:413.18px;top:1203.88px;font-size:76.0px;transform:scaleX(0.9516)">299,9</div>
<div class="t" style="left:606.71px;top:1203.88px;font-size:76.0px;transform:scaleX(1.0003)">V</div>
<div class="t" style="left:312.36px;top:1332.58px;font-size:76.0px;transform:scaleX(0.9117)">300...</div>
<div class="t" style="left:479.78px;top:1332.58px;font-size:76.0px;transform:scaleX(1.0018)">750</div>
<div class="t" style="left:620.30px;top:1332.58px;font-size:76.0px;transform:scaleX(1.0066)">V</div></body></html>
